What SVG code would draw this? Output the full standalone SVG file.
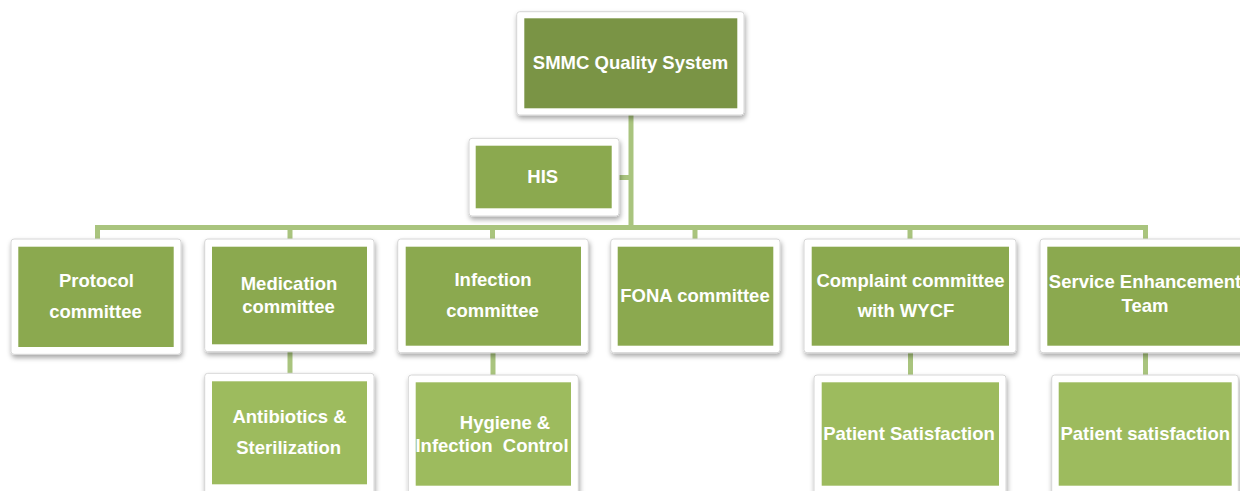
<svg xmlns="http://www.w3.org/2000/svg" width="1240" height="491" viewBox="0 0 1240 491">
  <defs>
    <filter id="shadow" x="-10%" y="-10%" width="125%" height="130%">
      <feDropShadow dx="1" dy="3" stdDeviation="2.5" flood-color="#000" flood-opacity="0.35"/>
    </filter>
    <clipPath id="clipHyg"><rect x="415.7" y="382.3" width="155.3" height="103.4"/></clipPath>
    <clipPath id="clipComp"><rect x="811.7" y="246.7" width="197.3" height="99"/></clipPath>
    <clipPath id="clipPat2"><rect x="1058.7" y="382.3" width="173" height="103.4"/></clipPath>
  </defs>
  <style>
    .frame { fill: #ffffff; stroke: #d6d6d6; stroke-width: 1; filter: url(#shadow); }
    .top { fill: #7a9445; }
    .mid { fill: #8ba94f; }
    .low { fill: #9dbb5e; }
    .lbl { font-family: "Liberation Sans", Arial, sans-serif; font-weight: bold; font-size: 18.5px; fill: #ffffff; text-anchor: middle; }
    .conn { stroke: #a9c47e; stroke-width: 5; fill: none; }
  </style>
  <rect width="1240" height="491" fill="#ffffff"/>

  <!-- connectors -->
  <g id="connectors">
    <line class="conn" x1="631" y1="115" x2="631" y2="228"/>
    <line class="conn" x1="611" y1="177.5" x2="631" y2="177.5"/>
    <path class="conn" d="M97.5 240 V227.5 H1145.5 V240"/>
    <line class="conn" x1="290" y1="227.5" x2="290" y2="240"/>
    <line class="conn" x1="492.5" y1="227.5" x2="492.5" y2="240"/>
    <line class="conn" x1="695" y1="227.5" x2="695" y2="240"/>
    <line class="conn" x1="910" y1="227.5" x2="910" y2="240"/>
    <line class="conn" x1="290" y1="351" x2="290" y2="374"/>
    <line class="conn" x1="493" y1="352" x2="493" y2="375"/>
    <line class="conn" x1="910.5" y1="352" x2="910.5" y2="375"/>
    <line class="conn" x1="1145.5" y1="352" x2="1145.5" y2="375"/>
  </g>

  <!-- root -->
  <g id="node-smmc">
    <rect class="frame" x="516.7" y="11.7" width="227.3" height="103.3" rx="3"/>
    <rect class="top" x="524.3" y="18.3" width="213" height="90"/>
    <text class="lbl" x="630.5" y="69">SMMC Quality System</text>
  </g>

  <g id="node-his">
    <rect class="frame" x="469" y="138.3" width="150" height="77.7" rx="3"/>
    <rect class="mid" x="475.7" y="145.7" width="136" height="62.6"/>
    <text class="lbl" x="542.7" y="183">HIS</text>
  </g>

  <!-- committees -->
  <g id="node-protocol">
    <rect class="frame" x="11" y="239" width="170" height="115.3" rx="3"/>
    <rect class="mid" x="18.3" y="246.7" width="155.4" height="100.3"/>
    <text class="lbl" x="96.5" y="286.7">Protocol</text>
    <text class="lbl" x="95.5" y="318.3">committee</text>
  </g>

  <g id="node-medication">
    <rect class="frame" x="204.7" y="239" width="169.3" height="112.7" rx="3"/>
    <rect class="mid" x="212" y="246.7" width="155" height="97.6"/>
    <text class="lbl" x="289" y="290">Medication</text>
    <text class="lbl" x="288.5" y="312.7">committee</text>
  </g>

  <g id="node-infection">
    <rect class="frame" x="397.7" y="239" width="190.6" height="113.7" rx="3"/>
    <rect class="mid" x="405.7" y="246.7" width="175.3" height="99"/>
    <text class="lbl" x="493" y="286">Infection</text>
    <text class="lbl" x="492.5" y="317.3">committee</text>
  </g>

  <g id="node-fona">
    <rect class="frame" x="610.7" y="239" width="169.3" height="113.7" rx="3"/>
    <rect class="mid" x="617.7" y="246.7" width="155.6" height="99"/>
    <text class="lbl" x="695" y="301.7">FONA committee</text>
  </g>

  <g id="node-complaint">
    <rect class="frame" x="804" y="239" width="212" height="113.7" rx="3"/>
    <rect class="mid" x="811.7" y="246.7" width="197.3" height="99"/>
    <g clip-path="url(#clipComp)">
      <text class="lbl" x="910.5" y="286.7">Complaint committee</text>
    </g>
    <text class="lbl" x="906" y="316.7">with WYCF</text>
  </g>

  <g id="node-service">
    <rect class="frame" x="1040" y="239" width="215" height="113.7" rx="3"/>
    <rect class="mid" x="1047.3" y="246.7" width="200" height="99"/>
    <text class="lbl" x="1145" y="288.3">Service Enhancement</text>
    <text class="lbl" x="1145" y="311.7">Team</text>
  </g>

  <!-- sub-units -->
  <g id="node-antibiotics">
    <rect class="frame" x="204.7" y="373.3" width="169.3" height="125" rx="3"/>
    <rect class="low" x="212" y="381.3" width="155" height="103"/>
    <text class="lbl" x="289.5" y="422.7">Antibiotics &amp;</text>
    <text class="lbl" x="288.7" y="454.3">Sterilization</text>
  </g>

  <g id="node-hygiene">
    <rect class="frame" x="408.3" y="375" width="170" height="125" rx="3"/>
    <rect class="low" x="415.7" y="382.3" width="155.3" height="103.4"/>
    <g clip-path="url(#clipHyg)">
      <text class="lbl" x="505" y="429.3">Hygiene &amp;</text>
      <text class="lbl" x="492" y="451.7" xml:space="preserve">Infection  Control</text>
    </g>
  </g>

  <g id="node-patient1">
    <rect class="frame" x="814" y="375" width="192" height="125" rx="3"/>
    <rect class="low" x="821.7" y="382.3" width="177.3" height="103.4"/>
    <text class="lbl" x="909" y="440">Patient Satisfaction</text>
  </g>

  <g id="node-patient2">
    <rect class="frame" x="1051.7" y="375" width="186.6" height="125" rx="3"/>
    <rect class="low" x="1058.7" y="382.3" width="173" height="103.4"/>
    <g clip-path="url(#clipPat2)">
      <text class="lbl" x="1145.3" y="440">Patient satisfaction</text>
    </g>
  </g>
</svg>
